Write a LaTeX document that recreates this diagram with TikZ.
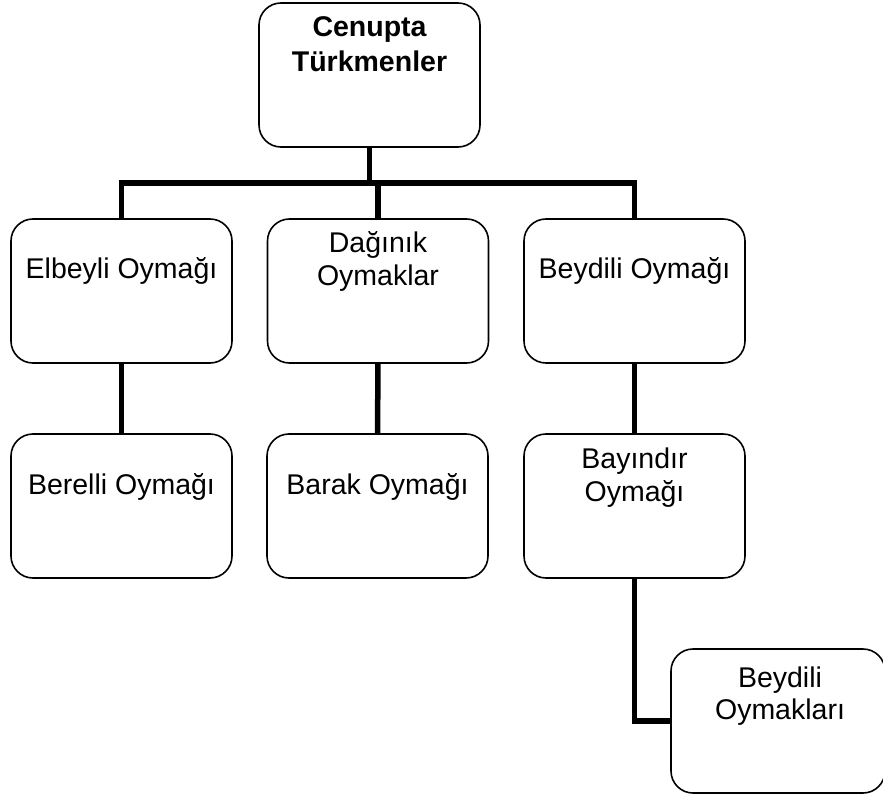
\documentclass[tikz,border=0pt]{standalone}
\usepackage{fontspec}
\setmainfont{Liberation Sans}
\begin{document}
\begin{tikzpicture}[x=1pt,y=1pt,
  box/.style={draw, line width=1.6pt, rounded corners=22pt, fill=white,
    minimum width=221pt, minimum height=144pt, inner sep=0pt, outer sep=0pt},
  txt/.style={inner sep=0pt, outer sep=0pt, font=\fontsize{28.5}{33}\selectfont, anchor=base},
  conn/.style={draw, line width=5.5pt, line join=miter}]
\useasboundingbox (0,0) rectangle (883,-794);
% boxes
\node[box] (top) at (369.5,-75) {};
\node[box] (b1) at (121.5,-291) {};
\node[box] (b2) at (378,-291) {};
\node[box] (b3) at (634.5,-291) {};
\node[box] (c1) at (121.5,-506) {};
\node[box] (c2) at (377.5,-506) {};
\node[box] (c3) at (634.5,-506) {};
\node[box, minimum width=214pt] (d3) at (778,-721) {};
\coordinate (bar) at (0,-183);
% connectors
\draw[conn] (b1.north) -- (b1.north |- bar) -- (b3.north |- bar) -- (b3.north);
\draw[conn] (top.south) -- (top.south |- bar);
\draw[conn] (b2.north) -- (b2.north |- bar);
\draw[conn] (b1.south) -- (c1.north);
\draw[conn] (b2.south) -- (c2.north);
\draw[conn] (b3.south) -- (c3.north);
\draw[conn] (c3.south) |- (d3.west);
% texts
\node[txt, font=\fontsize{28.5}{33}\selectfont\bfseries] (t0a) at (369.5,-37) {Cenupta};
\node[txt, font=\fontsize{28.5}{33}\selectfont\bfseries] (t0b) at (369.5,-72) {Türkmenler};
\node[txt] (t1) at (121.5,-279) {Elbeyli Oymağı};
\node[txt] (t2a) at (378,-253) {Dağınık};
\node[txt] (t2b) at (378,-286) {Oymaklar};
\node[txt] (t3) at (634.5,-279) {Beydili Oymağı};
\node[txt] (t4) at (121.5,-494) {Berelli Oymağı};
\node[txt] (t5) at (377.5,-494) {Barak Oymağı};
\node[txt] (t6a) at (634.5,-468) {Bayındır};
\node[txt] (t6b) at (634.5,-501) {Oymağı};
\node[txt] (t7a) at (780,-687) {Beydili};
\node[txt] (t7b) at (780,-719) {Oymakları};
\end{tikzpicture}
\end{document}
